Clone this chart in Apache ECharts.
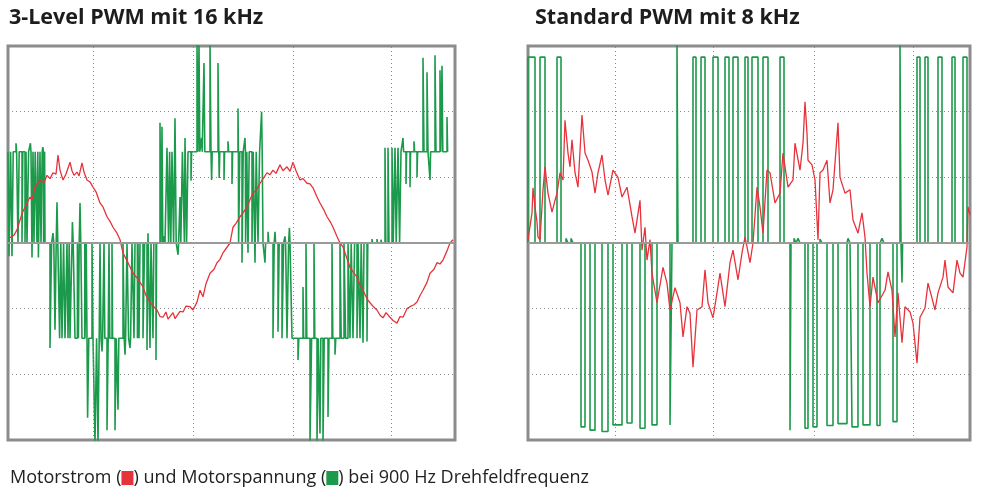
<!DOCTYPE html>
<html>
<head>
<meta charset="utf-8">
<script src="https://cdn.jsdelivr.net/npm/echarts@6/dist/echarts.min.js"></script>
<style>
  html, body { margin: 0; padding: 0; background: #fff; }
  #main { width: 983px; height: 491px; }
</style>
</head>
<body>
<div id="main"></div>
<script>
// time in µs, amplitude in scope divisions (grid: 6 divisions high, zero in the middle)

// --- 3-Level PWM 16 kHz (left) ---
var leftCurrent = [
  [10,0.08],[30,0.12],[45,0.20],[70,0.45],[95,0.61],[110,0.70],[120,0.66],[135,0.85],[160,0.96],
  [180,0.92],[195,1.03],[210,0.98],[225,1.07],[240,1.05],[250,1.34],[260,1.11],[275,0.96],[290,1.05],
  [310,1.23],[320,1.10],[330,1.03],[345,1.08],[355,1.02],[370,1.22],[380,1.08],[395,0.96],[410,0.93],
  [425,0.85],[440,0.78],[460,0.61],[475,0.55],[495,0.40],[510,0.33],[525,0.24],[545,0.15],[560,0.05],
  [575,-0.15],[600,-0.30],[625,-0.46],[650,-0.55],[675,-0.67],[690,-0.80],[710,-0.90],[725,-0.96],
  [745,-1.02],[760,-1.12],[775,-1.13],[790,-1.05],[800,-1.16],[810,-1.14],[825,-1.06],[835,-1.15],
  [845,-1.13],[860,-1.04],[875,-1.05],[890,-0.96],[910,-0.97],[925,-1.02],[945,-0.90],[960,-0.72],
  [975,-0.82],[990,-0.62],[1010,-0.46],[1030,-0.40],[1045,-0.30],[1060,-0.25],[1075,-0.15],[1110,0],
  [1125,0.24],[1140,0.30],[1160,0.40],[1175,0.46],[1195,0.55],[1210,0.66],[1225,0.76],[1245,0.82],
  [1260,0.91],[1280,1.00],[1295,1.07],[1310,1.04],[1325,1.11],[1340,1.06],[1360,1.19],[1375,1.10],
  [1395,1.16],[1410,1.09],[1425,1.23],[1440,1.10],[1460,0.96],[1475,0.98],[1495,0.91],[1510,0.90],
  [1525,0.84],[1545,0.70],[1560,0.61],[1580,0.50],[1595,0.40],[1610,0.33],[1625,0.24],[1645,0.10],
  [1660,0],[1675,-0.06],[1695,-0.24],[1710,-0.37],[1730,-0.46],[1745,-0.52],[1760,-0.64],[1775,-0.72],
  [1795,-0.85],[1810,-0.91],[1830,-0.98],[1845,-1.02],[1860,-1.10],[1875,-1.14],[1890,-1.06],
  [1910,-1.13],[1925,-1.18],[1945,-1.22],[1960,-1.12],[1975,-1.13],[1995,-1.00],[2010,-0.97],
  [2030,-0.94],[2045,-0.90],[2060,-0.80],[2075,-0.72],[2095,-0.60],[2110,-0.46],[2130,-0.40],
  [2145,-0.30],[2160,-0.32],[2175,-0.26],[2195,-0.12],[2210,0],[2225,0.05]
];
// base level of the voltage: [from time, level]
var leftVoltBase = [
  [0,1.39],[185,0],[395,-1.45],[660,0],[900,1.39],[1275,0],[1420,-1.45],[1700,0],[1965,1.39]
];
// switching pulses on top of the base: [time, pulse level, width]
var leftVoltPulses = [
  [5,-0.2,8],[20,-0.2,6],[40,1.52,3],[50,0,6],[70,0,4],[85,0,5],[95,0,8],[112,1.52,3],[120,-0.22,5],
  [130,0,6],[145,0,4],[152,-0.22,8],[165,0,6],[174,1.46,3],[178,0,5],
  [210,-1.6,8],[225,0.15,4],[235,-1.32,6],[245,0.62,4],[258,-1.45,6],[270,-1.45,8],[285,-1.45,10],
  [300,-1.45,6],[310,-1.45,10],[322,0.32,4],[335,-1.45,12],[352,-1.45,4],[360,0.61,4],[370,-1.45,14],
  [385,-1.45,6],
  [398,-2.66,6],[420,0,5],[435,-3.05,8],[450,-3.05,6],[460,0,5],[470,-1.65,3],[480,0,4],[495,-2.85,6],
  [505,0,4],[520,0,3],[535,-2.85,6],[550,-2.54,4],
  [575,0,6],[585,-1.7,3],[595,0,8],[610,-1.6,3],[620,0,10],[635,0,12],[650,0,5],
  [675,-1.45,8],[695,-1.63,6],[700,0.15,3],[710,-1.6,5],[725,-1.45,4],[740,-1.78,3],
  [760,1.83,5],[770,1.77,4],[782,0.1,3],[795,1.45,8],[808,1.39,6],[820,1.39,8],[835,1.9,6],
  [850,-0.18,3],[860,0.7,4],[872,1.39,10],[885,1.6,8],
  [915,0.95,3],[945,3.05,5],[955,3.05,4],[968,1.6,3],[980,2.74,4],[1010,3.05,5],[1018,0.96,3],
  [1050,2.74,4],[1056,0.99,3],[1080,0.96,3],[1100,1.55,3],[1120,0.9,3],[1150,2.05,2],[1153,0,6],
  [1170,-0.3,6],[1185,1.6,2],[1188,0,6],[1200,-0.15,6],[1220,0,6],[1235,-0.3,6],[1250,0,8],[1268,2.0,3],
  [1285,-0.3,3],[1300,0.17,4],[1325,-1.45,6],[1335,0.17,3],[1350,-1.35,6],[1370,-1.45,8],[1385,0.1,3],
  [1395,-1.45,8],[1407,0.23,3],
  [1450,-1.78,4],[1475,-0.67,3],[1490,0,4],[1510,-3.05,8],[1530,0,4],[1545,-3.05,6],[1560,-2.9,4],
  [1575,-3.05,6],[1600,-2.65,5],[1620,0,4],[1635,-1.7,4],[1660,0,6],[1680,0,8],
  [1710,-1.45,6],[1725,-1.45,8],[1745,-1.45,5],[1760,-1.45,6],[1775,-1.52,5],[1795,-1.5,4],
  [1820,0.06,3],[1845,0.06,3],[1865,0.05,3],
  [1885,1.45,4],[1900,1.45,5],[1920,1.45,6],[1935,1.45,6],[1950,1.45,8],
  [1975,1.6,3],[1990,0.9,3],[2010,0.85,3],[2030,1.55,3],[2045,1.0,3],[2075,2.82,5],[2095,2.6,5],
  [2110,0.96,3],[2135,2.86,5],[2160,2.63,4],[2170,2.7,4],[2195,1.92,3]
];
var leftGridTimes = [425, 925, 1425, 1915];

// --- Standard PWM 8 kHz (right) ---
var rightCurrent = [
  [0,0.05],[20,0.46],[25,0.84],[35,0.55],[45,0.32],[50,0.09],[60,0.05],[75,0.81],[85,1.16],[100,0.76],
  [120,0.47],[135,0.65],[145,0.76],[160,1.07],[175,0.96],[185,1.87],[200,1.37],[210,1.16],[220,1.57],
  [235,1.07],[250,0.85],[270,1.95],[285,1.37],[300,1.26],[320,1.08],[335,0.76],[350,1.07],[370,1.34],
  [385,0.96],[400,0.73],[425,1.11],[450,1.00],[470,0.70],[495,0.85],[520,0.40],[535,0.15],[560,0.65],
  [570,-0.11],[585,0.24],[595,-0.26],[610,0.05],[620,-0.46],[645,-0.91],[675,-0.37],[695,-0.61],
  [710,-1.02],[735,-0.68],[760,-0.91],[775,-1.43],[795,-0.97],[810,-1.07],[825,-1.89],[845,-1.02],
  [870,-0.97],[885,-0.41],[900,-0.91],[925,-1.14],[945,-0.76],[960,-0.46],[985,-0.97],[1010,-0.30],
  [1025,-0.11],[1050,-0.56],[1070,-0.15],[1085,0.09],[1095,-0.06],[1110,-0.30],[1125,0],[1145,0.85],
  [1160,0.55],[1175,0.15],[1195,1.11],[1210,1.07],[1235,0.61],[1260,0.76],[1275,1.37],[1300,0.85],
  [1325,0.96],[1335,1.52],[1360,1.11],[1375,1.52],[1385,2.15],[1395,1.67],[1400,1.26],[1420,1.19],
  [1435,0.96],[1450,0.05],[1460,1.07],[1475,1.11],[1495,1.26],[1510,0.61],[1525,0.81],[1550,1.83],
  [1560,1.00],[1585,0.76],[1610,0.81],[1625,0.35],[1650,0.15],[1670,0.46],[1685,0.09],[1695,-0.46],
  [1710,-0.97],[1725,-0.52],[1750,-0.91],[1785,-0.72],[1800,-0.44],[1820,-0.72],[1835,-1.43],
  [1850,-0.76],[1870,-1.52],[1885,-0.97],[1910,-1.05],[1925,-1.22],[1945,-1.83],[1960,-1.13],
  [1985,-0.99],[2000,-0.61],[2020,-0.84],[2035,-1.02],[2050,-0.76],[2075,-0.52],[2085,-0.26],
  [2100,-0.67],[2125,-0.76],[2145,-0.26],[2160,-0.46],[2175,-0.52],[2195,-0.06],[2200,0.55],[2210,0.43]
];
var rightVoltBase = [[0,0]];
var rightVoltPulses = [
  [0,2.83,35],[60,2.83,25],[145,2.83,20],[190,0.07,10],[215,0.07,10],
  [265,-2.8,20],[310,-2.85,25],[370,-2.87,30],[425,-2.77,45],[495,-2.74,25],[560,-2.82,25],
  [620,-2.77,25],[710,-2.77,10],
  [745,3.05,5],[825,2.83,15],[865,2.83,20],[925,2.83,25],[985,2.83,20],[1025,2.83,25],[1085,2.83,15],
  [1120,2.83,30],[1175,2.83,25],[1260,2.83,20],
  [1310,-2.85,5],[1330,0.07,10],[1350,0.07,10],[1385,-2.82,15],[1425,-2.8,20],[1460,0.06,10],
  [1495,-2.78,30],[1550,-2.75,45],[1600,0.07,10],[1620,-2.8,30],[1675,-2.77,35],[1745,-2.78,15],
  [1770,0.07,10],[1825,-2.72,20],
  [1860,3.05,5],[1870,-0.6,3],[1945,2.83,15],[1985,2.83,15],[2050,2.83,20],[2120,2.83,15],[2175,2.83,20]
];
var rightGridTimes = [435, 925, 1430, 1925];

var titles = ['3-Level PWM mit 16 kHz', 'Standard PWM mit 8 kHz'];
var caption = ['Motorstrom (', ') und Motorspannung (', ') bei 900 Hz Drehfeldfrequenz'];

var RED = '#e8323b';
var GREEN = '#1c9a4b';

// turn base levels + pulses into a sample-and-hold list for a step line
function buildPwm(bases, pulses) {
  var baseAt = function (t) {
    var v = bases[0][1];
    bases.forEach(function (b) { if (b[0] <= t) v = b[1]; });
    return v;
  };
  var ev = [];
  bases.forEach(function (b) { ev.push([b[0], b[1]]); });
  pulses.forEach(function (p) {
    ev.push([p[0], p[1]]);
    ev.push([p[0] + p[2], baseAt(p[0] + p[2])]);
  });
  ev.sort(function (a, b) { return a[0] - b[0]; });
  return ev;
}

function gridLines(times) {
  var d = times.map(function (t) { return { xAxis: t }; });
  d.push({ yAxis: 0, lineStyle: { type: 'solid', color: '#9a9a9a', width: 2 } });
  return {
    silent: true, symbol: 'none', label: { show: false },
    lineStyle: { type: [1, 3], color: '#8a8a8a', width: 1 },
    data: d
  };
}

var myChart = echarts.init(document.getElementById('main'));

var yAxisCfg = function (i) {
  return {
    gridIndex: i, type: 'value', min: -3, max: 3, interval: 1,
    axisLine: { show: false }, axisTick: { show: false }, axisLabel: { show: false },
    splitLine: { show: true, lineStyle: { type: [1, 3], color: '#8a8a8a', width: 1 } }
  };
};
var xAxisCfg = function (i, max) {
  return {
    gridIndex: i, type: 'value', min: 0, max: max,
    axisLine: { show: false }, axisTick: { show: false }, axisLabel: { show: false },
    splitLine: { show: false }
  };
};

var titleFont = { fontFamily: 'Open Sans', fontWeight: 'bold', fontSize: 21.5, color: '#1d1d1d' };

var option = {
  animation: false,
  backgroundColor: '#ffffff',
  title: [
    { text: titles[0], left: 4, top: 2, textStyle: titleFont },
    { text: titles[1], left: 530, top: 2, textStyle: titleFont },
    { text: caption[0] + '{r|}' + caption[1] + '{g|}' + caption[2], left: 5, top: 464,
      textStyle: {
        fontFamily: 'Open Sans', fontWeight: 'normal', fontSize: 18, color: '#222',
        rich: {
          r: { width: 12, height: 14, backgroundColor: RED },
          g: { width: 12, height: 14, backgroundColor: GREEN }
        }
      } }
  ],
  grid: [
    { left: 8, top: 46, width: 447, height: 394, show: true, borderColor: '#8c8c8c', borderWidth: 3, backgroundColor: '#fff' },
    { left: 528, top: 46, width: 442, height: 394, show: true, borderColor: '#8c8c8c', borderWidth: 3, backgroundColor: '#fff' }
  ],
  xAxis: [xAxisCfg(0, 2235), xAxisCfg(1, 2210)],
  yAxis: [yAxisCfg(0), yAxisCfg(1)],
  series: [
    { name: 'Motorspannung', type: 'line', xAxisIndex: 0, yAxisIndex: 0, step: 'end',
      data: buildPwm(leftVoltBase, leftVoltPulses), showSymbol: false,
      lineStyle: { color: GREEN, width: 1.6 }, markLine: gridLines(leftGridTimes), z: 2 },
    { name: 'Motorstrom', type: 'line', xAxisIndex: 0, yAxisIndex: 0,
      data: leftCurrent, showSymbol: false,
      lineStyle: { color: RED, width: 1.3 }, z: 3 },
    { name: 'Motorspannung', type: 'line', xAxisIndex: 1, yAxisIndex: 1, step: 'end',
      data: buildPwm(rightVoltBase, rightVoltPulses), showSymbol: false,
      lineStyle: { color: GREEN, width: 1.6 }, markLine: gridLines(rightGridTimes), z: 2 },
    { name: 'Motorstrom', type: 'line', xAxisIndex: 1, yAxisIndex: 1,
      data: rightCurrent, showSymbol: false,
      lineStyle: { color: RED, width: 1.3 }, z: 3 }
  ]
};

myChart.setOption(option);
</script>
</body>
</html>
